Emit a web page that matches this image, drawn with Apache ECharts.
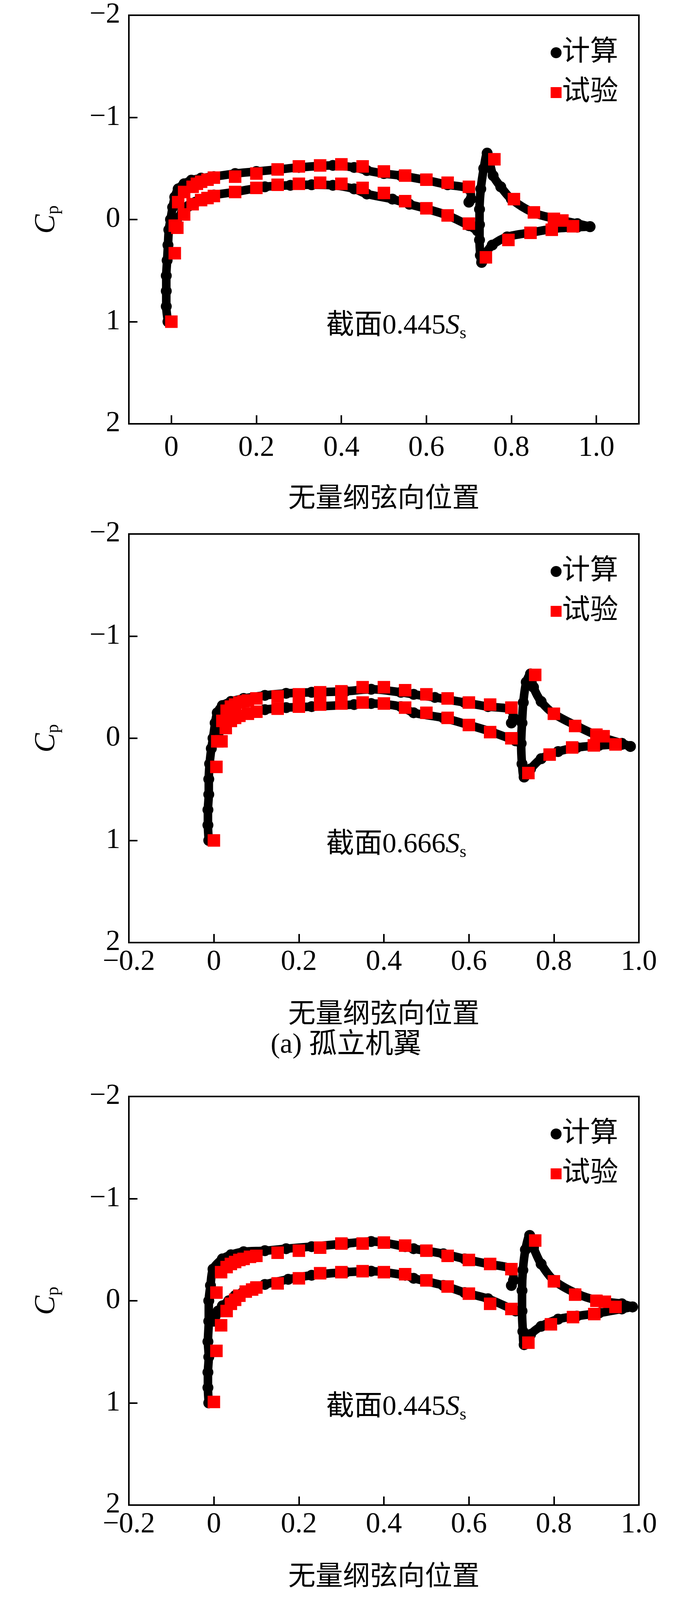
<!DOCTYPE html>
<html>
<head>
<meta charset="utf-8">
<script src="https://cdn.jsdelivr.net/npm/echarts@6/dist/echarts.min.js"></script>
<style>
  html, body { margin: 0; padding: 0; background: #fff; }
  #main { width: 1772px; height: 5542px; }
</style>
</head>
<body>
<div id="main"></div>
<script>
// ---- data: [chordwise position, Cp] ----
var sections = ['0.445', '0.666', '0.445', '0.666'];
var yTicks = [-2, -1, 0, 1, 2];
var xTicks = [0, 0.2, 0.4, 0.6, 0.8, 1.0];

var c1Upper = [[-0.008,1.0],[-0.012,0.85],[-0.012,0.7],[-0.012,0.55],[-0.01,0.4],[-0.008,0.25],[-0.006,0.1],[-0.002,0.0],[0.003,-0.12],[0.008,-0.22],[0.016,-0.3],[0.03,-0.35],[0.047,-0.385],[0.07,-0.405],[0.1,-0.42],[0.15,-0.45],[0.2,-0.47],[0.25,-0.49],[0.3,-0.51],[0.35,-0.525],[0.38,-0.53],[0.43,-0.51],[0.46,-0.48],[0.5,-0.45],[0.54,-0.43],[0.6,-0.385],[0.65,-0.34],[0.7,-0.3],[0.705,-0.2],[0.7,-0.17]];
var c1Lower = [[0.005,0.06],[0.012,0.0],[0.026,-0.07],[0.04,-0.13],[0.057,-0.17],[0.08,-0.21],[0.1,-0.24],[0.15,-0.27],[0.22,-0.32],[0.28,-0.335],[0.33,-0.34],[0.38,-0.335],[0.43,-0.3],[0.46,-0.25],[0.52,-0.2],[0.56,-0.15],[0.6,-0.105],[0.65,-0.04],[0.7,0.06],[0.72,0.11]];
var c1Flap = [[0.985,0.07],[0.955,0.04],[0.9,-0.01],[0.85,-0.07],[0.8,-0.2],[0.775,-0.32],[0.757,-0.43],[0.748,-0.58],[0.743,-0.65],[0.735,-0.5],[0.728,-0.3],[0.725,-0.1],[0.725,0.05],[0.725,0.2],[0.727,0.35],[0.73,0.42],[0.74,0.33],[0.755,0.25],[0.79,0.17],[0.85,0.125],[0.9,0.09],[0.955,0.075],[0.985,0.07]];
var e1 = [[0,1.0],[0.008,0.33],[0.014,0.08],[0.008,0.06],[0.016,-0.17],[0.03,-0.05],[0.03,-0.27],[0.05,-0.32],[0.06,-0.35],[0.07,-0.37],[0.085,-0.39],[0.1,-0.41],[0.05,-0.15],[0.07,-0.19],[0.085,-0.21],[0.1,-0.23],[0.15,-0.42],[0.2,-0.45],[0.25,-0.49],[0.3,-0.52],[0.35,-0.53],[0.4,-0.54],[0.45,-0.52],[0.5,-0.47],[0.55,-0.43],[0.6,-0.39],[0.65,-0.36],[0.7,-0.32],[0.76,-0.59],[0.15,-0.27],[0.2,-0.31],[0.25,-0.34],[0.3,-0.35],[0.35,-0.36],[0.4,-0.35],[0.45,-0.31],[0.5,-0.26],[0.55,-0.18],[0.6,-0.11],[0.65,-0.04],[0.7,0.04],[0.74,0.37],[0.806,-0.2],[0.853,-0.07],[0.9,-0.007],[0.92,0.01],[0.945,0.066],[0.895,0.1],[0.845,0.13],[0.793,0.2]];

var c2Upper = [[-0.012,1.0],[-0.014,0.85],[-0.014,0.7],[-0.012,0.55],[-0.012,0.4],[-0.01,0.25],[-0.006,0.1],[-0.002,0.0],[0.003,-0.15],[0.008,-0.25],[0.02,-0.32],[0.04,-0.36],[0.07,-0.39],[0.12,-0.42],[0.17,-0.44],[0.23,-0.45],[0.31,-0.46],[0.37,-0.48],[0.44,-0.45],[0.47,-0.43],[0.52,-0.4],[0.59,-0.35],[0.645,-0.31],[0.7,-0.28],[0.705,-0.2],[0.7,-0.15]];
var c2Lower = [[0.004,0.02],[0.01,-0.05],[0.02,-0.12],[0.04,-0.18],[0.06,-0.22],[0.09,-0.25],[0.12,-0.28],[0.17,-0.3],[0.23,-0.31],[0.33,-0.33],[0.37,-0.34],[0.44,-0.31],[0.47,-0.25],[0.54,-0.2],[0.6,-0.13],[0.655,-0.06],[0.71,0.025]];
var c2Flap = [[0.98,0.08],[0.96,0.05],[0.906,-0.02],[0.854,-0.12],[0.8,-0.24],[0.77,-0.36],[0.752,-0.5],[0.745,-0.63],[0.735,-0.55],[0.728,-0.35],[0.725,-0.15],[0.723,0.05],[0.725,0.25],[0.73,0.38],[0.745,0.3],[0.77,0.2],[0.81,0.13],[0.854,0.09],[0.906,0.07],[0.96,0.06],[0.98,0.08]];
var e2 = [[0,1.0],[0.006,0.28],[0.008,0.03],[0.018,0.03],[0.02,-0.17],[0.028,-0.1],[0.03,-0.27],[0.04,-0.31],[0.05,-0.33],[0.06,-0.35],[0.07,-0.36],[0.08,-0.37],[0.1,-0.39],[0.04,-0.17],[0.05,-0.2],[0.06,-0.22],[0.08,-0.24],[0.1,-0.26],[0.15,-0.41],[0.2,-0.43],[0.25,-0.45],[0.3,-0.46],[0.35,-0.5],[0.4,-0.5],[0.45,-0.47],[0.5,-0.43],[0.55,-0.39],[0.6,-0.35],[0.65,-0.33],[0.7,-0.3],[0.756,-0.62],[0.15,-0.29],[0.2,-0.31],[0.25,-0.33],[0.3,-0.34],[0.35,-0.35],[0.4,-0.34],[0.45,-0.3],[0.5,-0.25],[0.55,-0.2],[0.6,-0.13],[0.65,-0.06],[0.7,0.0],[0.74,0.34],[0.8,-0.24],[0.85,-0.12],[0.9,-0.035],[0.917,-0.02],[0.945,0.06],[0.894,0.07],[0.843,0.09],[0.79,0.16]];

var c3Upper = [[-0.012,1.0],[-0.014,0.85],[-0.014,0.7],[-0.012,0.55],[-0.014,0.4],[-0.012,0.2],[-0.012,0.0],[-0.008,-0.15],[-0.002,-0.31],[0.02,-0.41],[0.04,-0.45],[0.07,-0.48],[0.12,-0.49],[0.17,-0.51],[0.23,-0.53],[0.31,-0.56],[0.37,-0.58],[0.45,-0.53],[0.47,-0.51],[0.54,-0.46],[0.59,-0.41],[0.645,-0.36],[0.7,-0.31],[0.705,-0.2],[0.7,-0.15]];
var c3Lower = [[0.0,0.2],[0.003,0.15],[0.01,0.1],[0.02,0.05],[0.035,0.0],[0.05,-0.05],[0.07,-0.09],[0.09,-0.12],[0.12,-0.16],[0.175,-0.21],[0.23,-0.25],[0.31,-0.28],[0.37,-0.29],[0.45,-0.25],[0.47,-0.22],[0.54,-0.15],[0.59,-0.08],[0.645,-0.02],[0.71,0.1]];
var c3Flap = [[0.985,0.06],[0.96,0.03],[0.906,0.0],[0.854,-0.07],[0.8,-0.2],[0.77,-0.36],[0.752,-0.52],[0.743,-0.64],[0.733,-0.5],[0.727,-0.3],[0.725,-0.1],[0.725,0.1],[0.727,0.3],[0.73,0.43],[0.745,0.33],[0.77,0.25],[0.81,0.18],[0.854,0.15],[0.906,0.12],[0.96,0.08],[0.985,0.06]];
var e3 = [[0,0.99],[0.006,0.49],[0.017,0.24],[0.006,-0.08],[0.017,-0.28],[0.03,0.1],[0.03,-0.33],[0.04,-0.36],[0.05,-0.38],[0.06,-0.4],[0.07,-0.41],[0.085,-0.43],[0.1,-0.44],[0.04,0.03],[0.05,-0.01],[0.06,-0.05],[0.075,-0.09],[0.09,-0.11],[0.1,-0.13],[0.15,-0.47],[0.2,-0.49],[0.25,-0.52],[0.3,-0.56],[0.35,-0.56],[0.4,-0.57],[0.45,-0.54],[0.5,-0.49],[0.55,-0.44],[0.6,-0.4],[0.65,-0.36],[0.7,-0.31],[0.756,-0.59],[0.15,-0.17],[0.2,-0.22],[0.25,-0.27],[0.3,-0.28],[0.35,-0.29],[0.4,-0.28],[0.45,-0.26],[0.5,-0.2],[0.55,-0.14],[0.6,-0.07],[0.65,0.03],[0.7,0.08],[0.74,0.41],[0.8,-0.19],[0.85,-0.06],[0.9,0.0],[0.92,0.01],[0.945,0.06],[0.895,0.13],[0.845,0.16],[0.793,0.23]];

var c4Sparse = [[-0.016,1.85],[-0.014,1.68],[-0.01,1.6],[-0.008,1.44],[-0.016,1.3],[-0.005,1.17],[-0.003,1.06],[0.0,0.9],[0.005,0.75],[0.01,0.66],[0.013,0.56],[0.016,0.47],[-0.014,0.78],[-0.014,0.66],[-0.012,0.17],[-0.011,-0.31],[-0.009,-0.52],[-0.007,-0.67]];
var c4Lower = [[0.023,0.35],[0.037,0.25],[0.058,0.12],[0.078,0.02],[0.1,-0.08],[0.12,-0.15],[0.15,-0.2],[0.19,-0.25],[0.22,-0.3],[0.28,-0.36],[0.33,-0.38],[0.37,-0.41],[0.4,-0.4],[0.43,-0.38],[0.46,-0.34],[0.52,-0.29],[0.57,-0.2],[0.61,-0.14],[0.65,-0.05],[0.69,0.07],[0.71,0.12]];
var c4Upper = [[-0.005,-0.8],[0.0,-0.92],[0.01,-0.95],[0.026,-0.9],[0.047,-0.83],[0.078,-0.76],[0.12,-0.71],[0.17,-0.68],[0.22,-0.64],[0.28,-0.63],[0.33,-0.64],[0.37,-0.64],[0.43,-0.59],[0.46,-0.56],[0.52,-0.49],[0.57,-0.42],[0.62,-0.38],[0.67,-0.34],[0.7,-0.32],[0.705,-0.22],[0.7,-0.18]];
var c4Flap = [[0.98,0.15],[0.955,0.1],[0.9,0.02],[0.85,-0.12],[0.8,-0.32],[0.77,-0.49],[0.746,-0.63],[0.735,-0.78],[0.727,-0.87],[0.722,-0.7],[0.722,-0.5],[0.722,-0.3],[0.722,-0.1],[0.722,0.1],[0.724,0.3],[0.724,0.5],[0.725,0.65],[0.728,0.8],[0.735,0.66],[0.757,0.46],[0.79,0.32],[0.85,0.22],[0.9,0.17],[0.955,0.15],[0.98,0.15]];
var e4 = [[0,1.84],[0.008,1.38],[0.018,0.82],[0.03,0.49],[0.04,0.31],[0.054,0.18],[0.07,0.08],[0.086,0.0],[0.1,-0.04],[0.15,-0.18],[0.2,-0.26],[0.25,-0.32],[0.3,-0.37],[0.35,-0.4],[0.4,-0.41],[0.45,-0.37],[0.5,-0.3],[0.55,-0.22],[0.6,-0.14],[0.65,-0.03],[0.7,0.11],[0.743,0.82],[0.007,-0.88],[0.019,-0.97],[0.03,-0.95],[0.045,-0.89],[0.06,-0.84],[0.075,-0.8],[0.09,-0.78],[0.1,-0.75],[0.15,-0.7],[0.2,-0.66],[0.25,-0.64],[0.3,-0.63],[0.35,-0.68],[0.4,-0.65],[0.45,-0.59],[0.5,-0.53],[0.55,-0.46],[0.6,-0.41],[0.65,-0.37],[0.7,-0.35],[0.757,-0.87],[0.806,-0.26],[0.853,-0.1],[0.9,-0.02],[0.92,0.02],[0.945,0.15],[0.895,0.17],[0.845,0.22],[0.793,0.36]];

var calcCurves = [[c1Upper, c1Lower, c1Flap], [c2Upper, c2Lower, c2Flap], [c3Upper, c3Lower, c3Flap], [c4Lower, c4Upper, c4Flap]];
var calcSparse = [[], [], [], c4Sparse];
var expData = [e1, e2, e3, e4];
var xMins = [-0.1, -0.2, -0.2, -0.1];
var xMaxs = [1.1, 1.0, 1.0, 1.1];

// ---- layout ----
var tops = [39, 1367, 2807, 4163];
var plotLeft = 330, plotW = 1306, plotH = 1046;
var serif = '"Liberation Serif", "Times New Roman", "Noto Sans CJK SC", serif';

var chart = echarts.init(document.getElementById('main'));
var grids = [], xAxes = [], yAxes = [], series = [], legends = [], graphics = [];

tops.forEach(function (top, i) {
  grids.push({ left: plotLeft, top: top, width: plotW, height: plotH, show: true, borderColor: '#000', borderWidth: 4, backgroundColor: 'transparent' });
  var custom = xMins[i] === -0.1;
  xAxes.push({
    type: 'value', gridIndex: i, min: xMins[i], max: xMaxs[i], interval: 0.2,
    name: '无量纲弦向位置', nameLocation: 'middle', nameGap: custom ? 160 : 152,
    nameTextStyle: { fontSize: 70, color: '#000', fontFamily: serif },
    axisLine: { show: true, onZero: false, lineStyle: { color: '#000', width: 4 } },
    axisTick: { inside: true, length: 22, lineStyle: { color: '#000', width: 4 }, customValues: custom ? xTicks : undefined },
    axisLabel: { fontSize: 74, color: '#000', fontFamily: serif, margin: custom ? 26 : 14, customValues: custom ? xTicks : undefined,
      formatter: function (v) { return v === 0 ? '0' : (v < 0 ? '\u2212' : '') + Math.abs(v).toFixed(1); } },
    splitLine: { show: false }
  });
  yAxes.push({
    type: 'value', gridIndex: i, min: -2, max: 2, interval: 1, inverse: true,
    name: '{c|C}{p|p}', nameLocation: 'middle', nameGap: 170, nameRotate: 90,
    nameTextStyle: { rich: { c: { fontSize: 74, fontStyle: 'italic', fontFamily: serif, color: '#000' }, p: { fontSize: 46, fontFamily: serif, color: '#000', verticalAlign: 'bottom', padding: [34, 0, 0, 0] } } },
    axisLine: { show: true, onZero: false, lineStyle: { color: '#000', width: 4 } },
    axisTick: { inside: true, length: 22, lineStyle: { color: '#000', width: 4 } },
    axisLabel: { fontSize: 74, color: '#000', fontFamily: serif, margin: 22,
      formatter: function (v) { return (v < 0 ? '\u2212' : '') + Math.abs(v); } },
    splitLine: { show: false }
  });
  calcCurves[i].forEach(function (curve) {
    series.push({ name: '计算', type: 'line', xAxisIndex: i, yAxisIndex: i, data: curve,
      symbol: 'circle', symbolSize: 28, showSymbol: true, smooth: 0.3,
      itemStyle: { color: '#000' }, lineStyle: { color: '#000', width: 22 }, z: 2, animation: false });
  });
  if (calcSparse[i].length) {
    series.push({ name: '计算', type: 'scatter', xAxisIndex: i, yAxisIndex: i, data: calcSparse[i],
      symbol: 'circle', symbolSize: 28, itemStyle: { color: '#000' }, z: 2, animation: false });
  }
  series.push({ name: '试验', type: 'scatter', xAxisIndex: i, yAxisIndex: i, data: expData[i],
    symbol: 'rect', symbolSize: 32, itemStyle: { color: '#ff0000', opacity: 1 }, z: 3, animation: false });
  legends.push({ orient: 'vertical', left: 1405, top: top + 55, itemGap: 30, itemWidth: 28, itemHeight: 28,
    data: [{ name: '计算', icon: 'circle' }, { name: '试验', icon: 'rect' }],
    textStyle: { fontSize: 72, color: '#000', fontFamily: serif, padding: [0, 0, 0, -4] }, selectedMode: false });
  graphics.push({ type: 'text', left: 835, top: top + 760,
    style: { text: '{t|截面' + sections[i] + '}{s|S}{b|s}', rich: {
      t: { fontSize: 72, fontFamily: serif, fill: '#000' },
      s: { fontSize: 72, fontFamily: serif, fontStyle: 'italic', fill: '#000' },
      b: { fontSize: 44, fontFamily: serif, fill: '#000', verticalAlign: 'bottom', padding: [38, 0, 0, 0] } } } });
});

graphics.push({ type: 'text', left: 'center', top: 2640, style: { text: '(a) 孤立机翼', fontSize: 72, fontFamily: serif, fill: '#000' } });
graphics.push({ type: 'text', left: 'center', top: 5440, style: { text: '(b) 机翼/螺旋模型', fontSize: 72, fontFamily: serif, fill: '#000' } });

chart.setOption({
  backgroundColor: '#fff',
  animation: false,
  grid: grids, xAxis: xAxes, yAxis: yAxes, series: series, legend: legends, graphic: graphics
});
</script>
</body>
</html>
